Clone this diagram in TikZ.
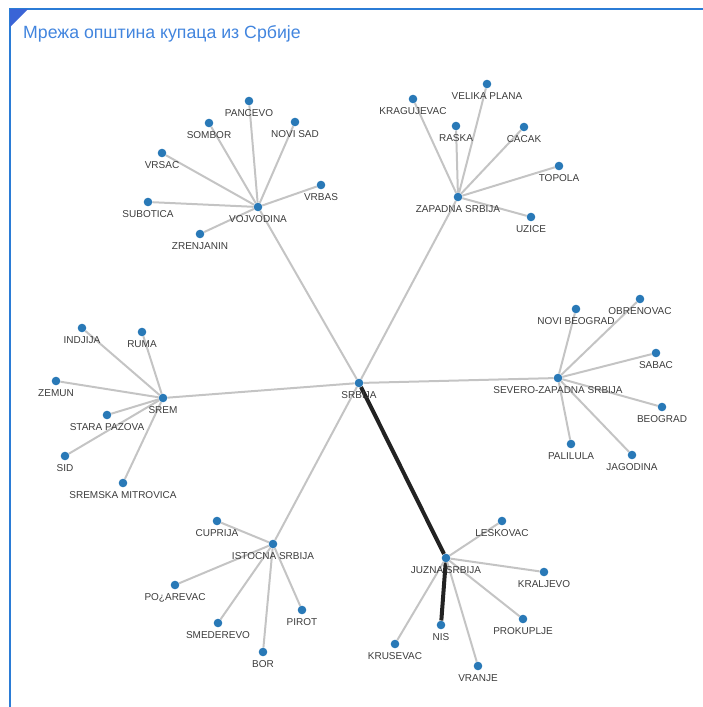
\documentclass[tikz,border=0pt]{standalone}
\usepackage{fontspec}
\setmainfont{Liberation Sans}
\usetikzlibrary{backgrounds}
\definecolor{framecolor}{RGB}{43,124,214}
\definecolor{cornercolor}{RGB}{58,100,214}
\definecolor{titlecolor}{RGB}{66,133,222}
\definecolor{dotcolor}{RGB}{41,121,183}
\definecolor{edgecolor}{RGB}{196,196,196}
\definecolor{strongcolor}{RGB}{34,34,34}
\definecolor{namecolor}{RGB}{60,60,60}
\tikzset{
	dotstyle/.style={circle,fill=dotcolor,inner sep=0pt,minimum size=8.6pt},
	namestyle/.style={font=\fontsize{10}{12}\selectfont,text=namecolor,inner sep=0pt,text height=7.2pt,text depth=0pt},
	town/.style={dotstyle,label={[namestyle]below:#1}},
	edgestyle/.style={draw=edgecolor,line width=2pt},
	strongstyle/.style={draw=strongcolor,line width=4pt}
}

\begin{document}
\begin{tikzpicture}[x=1pt,y=-1pt,label distance=4pt]
		\useasboundingbox (0,0) rectangle (703,707);
		\draw[framecolor,line width=2pt] (703,9)--(10,9)--(10,707);
		\fill[cornercolor] (10,9)--(28,9)--(10,27)--cycle;
		\node[anchor=base west,inner sep=0pt,text=titlecolor,font=\fontsize{17.7}{21}\selectfont] (title) at (23,38) {Мрежа општина купаца из Србије};
		\node[town=SRBIJA] (srbija) at (359,383) {};
		\node[town=VOJVODINA] (vojvodina) at (258,207) {};
		\node[town=ZAPADNA SRBIJA] (zapadna) at (458,197) {};
		\node[town=SREM] (srem) at (163,398) {};
		\node[town=SEVERO-ZAPADNA SRBIJA] (severo) at (558,378) {};
		\node[town=ISTOCNA SRBIJA] (istocna) at (273,544) {};
		\node[town=JUZNA SRBIJA] (juzna) at (446,558) {};
		\node[town=PANCEVO] (pancevo) at (249,101) {};
		\node[town=SOMBOR] (sombor) at (209,123) {};
		\node[town=NOVI SAD] (novisad) at (295,122) {};
		\node[town=VRSAC] (vrsac) at (162,153) {};
		\node[town=VRBAS] (vrbas) at (321,185) {};
		\node[town=SUBOTICA] (subotica) at (148,202) {};
		\node[town=ZRENJANIN] (zrenjanin) at (200,234) {};
		\node[town=KRAGUJEVAC] (kragujevac) at (413,99) {};
		\node[town=VELIKA PLANA] (velikaplana) at (487,84) {};
		\node[town=RASKA] (raska) at (456,126) {};
		\node[town=CACAK] (cacak) at (524,127) {};
		\node[town=TOPOLA] (topola) at (559,166) {};
		\node[town=UZICE] (uzice) at (531,217) {};
		\node[town=INDJIJA] (indjija) at (82,328) {};
		\node[town=RUMA] (ruma) at (142,332) {};
		\node[town=ZEMUN] (zemun) at (56,381) {};
		\node[town=STARA PAZOVA] (starapazova) at (107,415) {};
		\node[town=SID] (sid) at (65,456) {};
		\node[town=SREMSKA MITROVICA] (sremskamitrovica) at (123,483) {};
		\node[town=NOVI BEOGRAD] (novibeograd) at (576,309) {};
		\node[town=OBRENOVAC] (obrenovac) at (640,299) {};
		\node[town=SABAC] (sabac) at (656,353) {};
		\node[town=BEOGRAD] (beograd) at (662,407) {};
		\node[town=PALILULA] (palilula) at (571,444) {};
		\node[town=JAGODINA] (jagodina) at (632,455) {};
		\node[town=CUPRIJA] (cuprija) at (217,521) {};
		\node[town=PO¿AREVAC] (pozarevac) at (175,585) {};
		\node[town=SMEDEREVO] (smederevo) at (218,623) {};
		\node[town=PIROT] (pirot) at (302,610) {};
		\node[town=BOR] (bor) at (263,652) {};
		\node[town=LESKOVAC] (leskovac) at (502,521) {};
		\node[town=KRALJEVO] (kraljevo) at (544,572) {};
		\node[town=NIS] (nis) at (441,625) {};
		\node[town=PROKUPLJE] (prokuplje) at (523,619) {};
		\node[town=KRUSEVAC] (krusevac) at (395,644) {};
		\node[town=VRANJE] (vranje) at (478,666) {};
		\begin{scope}[on background layer]
		\draw[edgestyle] (srbija)--(vojvodina);
		\draw[edgestyle] (srbija)--(zapadna);
		\draw[edgestyle] (srbija)--(srem);
		\draw[edgestyle] (srbija)--(severo);
		\draw[edgestyle] (srbija)--(istocna);
		\draw[strongstyle] (srbija)--(juzna);
		\draw[edgestyle] (vojvodina)--(pancevo);
		\draw[edgestyle] (vojvodina)--(sombor);
		\draw[edgestyle] (vojvodina)--(novisad);
		\draw[edgestyle] (vojvodina)--(vrsac);
		\draw[edgestyle] (vojvodina)--(vrbas);
		\draw[edgestyle] (vojvodina)--(subotica);
		\draw[edgestyle] (vojvodina)--(zrenjanin);
		\draw[edgestyle] (zapadna)--(kragujevac);
		\draw[edgestyle] (zapadna)--(velikaplana);
		\draw[edgestyle] (zapadna)--(raska);
		\draw[edgestyle] (zapadna)--(cacak);
		\draw[edgestyle] (zapadna)--(topola);
		\draw[edgestyle] (zapadna)--(uzice);
		\draw[edgestyle] (srem)--(indjija);
		\draw[edgestyle] (srem)--(ruma);
		\draw[edgestyle] (srem)--(zemun);
		\draw[edgestyle] (srem)--(starapazova);
		\draw[edgestyle] (srem)--(sid);
		\draw[edgestyle] (srem)--(sremskamitrovica);
		\draw[edgestyle] (severo)--(novibeograd);
		\draw[edgestyle] (severo)--(obrenovac);
		\draw[edgestyle] (severo)--(sabac);
		\draw[edgestyle] (severo)--(beograd);
		\draw[edgestyle] (severo)--(palilula);
		\draw[edgestyle] (severo)--(jagodina);
		\draw[edgestyle] (istocna)--(cuprija);
		\draw[edgestyle] (istocna)--(pozarevac);
		\draw[edgestyle] (istocna)--(smederevo);
		\draw[edgestyle] (istocna)--(pirot);
		\draw[edgestyle] (istocna)--(bor);
		\draw[edgestyle] (juzna)--(leskovac);
		\draw[edgestyle] (juzna)--(kraljevo);
		\draw[strongstyle] (juzna)--(nis);
		\draw[edgestyle] (juzna)--(prokuplje);
		\draw[edgestyle] (juzna)--(krusevac);
		\draw[edgestyle] (juzna)--(vranje);
		\end{scope}
\end{tikzpicture}
\end{document}
